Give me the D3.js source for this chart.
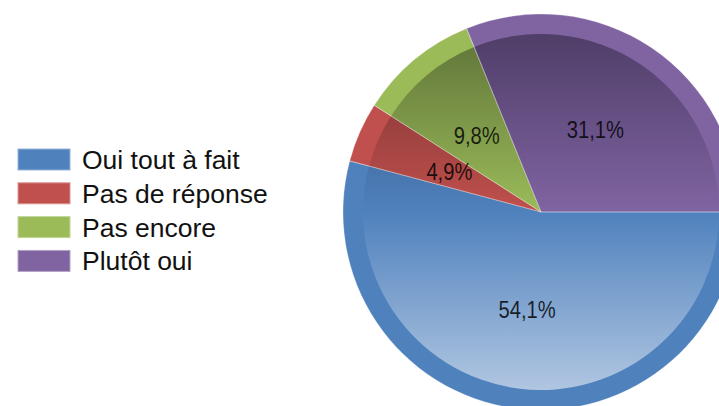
<!DOCTYPE html>
<html>
<head>
<meta charset="utf-8">
<script src="https://cdn.jsdelivr.net/npm/d3@7"></script>
<style>
  body { margin: 0; background: #fff; }
  svg { display: block; font-family: "Liberation Sans", Arial, sans-serif; }
</style>
</head>
<body>
<div id="chart"></div>
<script>
// data
var categories = ["Oui tout à fait", "Pas de réponse", "Pas encore", "Plutôt oui"];
var values = [54.1, 4.9, 9.8, 31.1];
var colors = ["#4f81bd", "#c0504d", "#9bbb59", "#8064a2"];

var width = 719, height = 406;
var cx = 541, cy = 212;
var radius = 198, innerDisc = 178;

var svg = d3.select("#chart").append("svg")
    .attr("width", width)
    .attr("height", height);

var defs = svg.append("defs");

// vertical shading on the inner disc: dark at top, plain in the middle, pale at bottom
colors.forEach(function (c, i) {
    var grad = defs.append("linearGradient")
        .attr("id", "grad" + i)
        .attr("gradientUnits", "userSpaceOnUse")
        .attr("x1", 0).attr("x2", 0)
        .attr("y1", -innerDisc).attr("y2", innerDisc);
    var base = d3.rgb(c);
    var dark = d3.rgb(base.r * 0.62, base.g * 0.62, base.b * 0.64);
    grad.append("stop").attr("offset", "0%").attr("stop-color", dark.formatHex());
    grad.append("stop").attr("offset", "50%").attr("stop-color", c);
    grad.append("stop").attr("offset", "100%").attr("stop-color", d3.interpolateRgb(c, "#fff")(0.55));
});

var pie = d3.pie()
    .sort(null)
    .startAngle(Math.PI / 2)
    .endAngle(Math.PI / 2 + 2 * Math.PI);

var arcs = pie(values);

var outerArc = d3.arc().innerRadius(0).outerRadius(radius);
var innerArc = d3.arc().innerRadius(0).outerRadius(innerDisc);

var g = svg.append("g")
    .attr("transform", "translate(" + cx + "," + cy + ")");

g.selectAll("path.outer")
    .data(arcs)
    .enter().append("path")
    .attr("class", "outer")
    .attr("d", outerArc)
    .attr("fill", function (d, i) { return colors[i]; });

g.selectAll("path.inner")
    .data(arcs)
    .enter().append("path")
    .attr("class", "inner")
    .attr("d", innerArc)
    .attr("fill", function (d, i) { return "url(#grad" + i + ")"; });

// thin light seams between slices
g.selectAll("path.seam")
    .data(arcs)
    .enter().append("path")
    .attr("class", "seam")
    .attr("d", outerArc)
    .attr("fill", "none")
    .attr("stroke", "#fff")
    .attr("stroke-opacity", 0.35)
    .attr("stroke-width", 0.8);

// percentage labels, a bit narrow like the original
var fmt = d3.format(".1f");
g.selectAll("text.pct")
    .data(arcs)
    .enter().append("text")
    .attr("class", "pct")
    .attr("transform", function (d) {
        var c = outerArc.centroid(d);
        return "translate(" + (c[0] - 1) + "," + c[1] + ") scale(0.86,1)";
    })
    .attr("dy", "0.35em")
    .attr("text-anchor", "middle")
    .attr("font-size", 23.5)
    .attr("fill", "#000")
    .attr("fill-opacity", 0.82)
    .text(function (d) { return fmt(d.data).replace(".", ",") + "%"; });

// legend
var legend = svg.append("g")
    .attr("transform", "translate(18,149)")
    .selectAll("g")
    .data(categories)
    .enter().append("g")
    .attr("transform", function (d, i) { return "translate(0," + i * 33.8 + ")"; });

legend.append("rect")
    .attr("width", 52)
    .attr("height", 21)
    .attr("fill", function (d, i) { return colors[i]; })
    .attr("stroke", function (d, i) { return d3.interpolateRgb(colors[i], "#fff")(0.4); })
    .attr("stroke-width", 1);

legend.append("text")
    .attr("x", 64)
    .attr("y", 20)
    .attr("font-size", 26.5)
    .attr("fill", "#111")
    .text(function (d) { return d; });
</script>
</body>
</html>
